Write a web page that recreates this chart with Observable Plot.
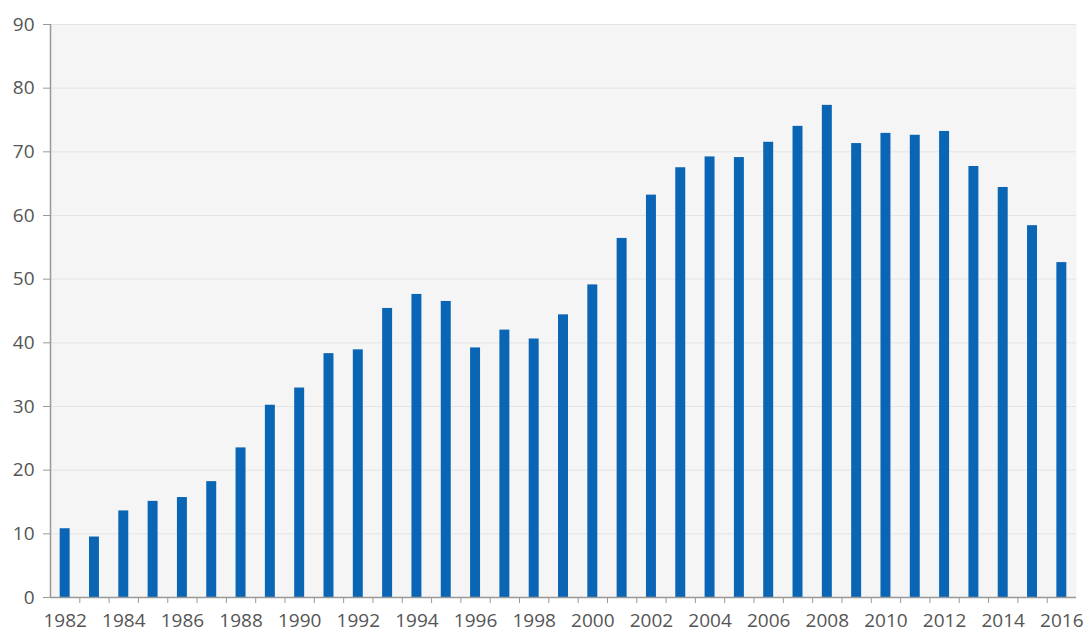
<!DOCTYPE html>
<html>
<head>
<meta charset="utf-8">
<script src="https://cdn.jsdelivr.net/npm/d3@7"></script>
<script src="https://cdn.jsdelivr.net/npm/@observablehq/plot@0.6"></script>
<style>
  html, body { margin: 0; padding: 0; background: #fff; }
  #chart { width: 1085px; height: 634px; }
</style>
</head>
<body>
<div id="chart"></div>
<script>
const years = [1982,1983,1984,1985,1986,1987,1988,1989,1990,1991,1992,1993,1994,1995,1996,1997,1998,1999,2000,2001,2002,2003,2004,2005,2006,2007,2008,2009,2010,2011,2012,2013,2014,2015,2016];
const values = [10.8,9.5,13.6,15.1,15.7,18.2,23.5,30.2,32.9,38.3,38.9,45.4,47.6,46.5,39.2,42.0,40.6,44.4,49.1,56.4,63.2,67.5,69.2,69.1,71.5,74.0,77.3,71.3,72.9,72.6,73.2,67.7,64.4,58.4,52.6];
const yTicks = [0,10,20,30,40,50,60,70,80,90];
const labelYears = years.filter((y, i) => i % 2 === 0);

const data = years.map((y, i) => ({year: y, value: values[i]}));

const W = 1085, H = 634;
const mL = 50, mR = 9, mT = 24, mB = 37;
const step = (W - mL - mR) / years.length;

const chart = Plot.plot({
  width: W,
  height: H,
  marginLeft: mL,
  marginRight: mR,
  marginTop: mT,
  marginBottom: mB,
  style: {fontFamily: "'Open Sans', sans-serif", fontSize: "19px", background: "#fff"},
  x: {type: "band", domain: years, paddingInner: 0.66, paddingOuter: 0.33, round: false, label: null},
  y: {domain: [0, 90], label: null},
  marks: [
    Plot.frame({fill: "#f5f5f5", stroke: null}),
    Plot.gridY(yTicks, {stroke: "#e4e4e4", strokeOpacity: 1, strokeWidth: 1}),
    Plot.barY(data, {x: "year", y: "value", fill: "#0a65b5"}),
    Plot.ruleY([0], {stroke: "#999", strokeWidth: 1.5}),
    Plot.ruleX([years[0]], {stroke: "#999", strokeWidth: 1.5, dx: -step / 2}),
    Plot.axisY(yTicks, {tickSize: 7, tickPadding: 9, stroke: "#999", fill: "#555", fontSize: 19, label: null}),
    Plot.axisX(years.slice(0, -1), {tickSize: 6, fill: "none", stroke: "#999", dx: step / 2, label: null, tickFormat: () => ""}),
    Plot.axisX(labelYears, {tickSize: 0, tickPadding: 16, fill: "#555", fontSize: 19, label: null, tickFormat: d => String(d)})
  ]
});
document.getElementById("chart").appendChild(chart);
</script>
</body>
</html>
